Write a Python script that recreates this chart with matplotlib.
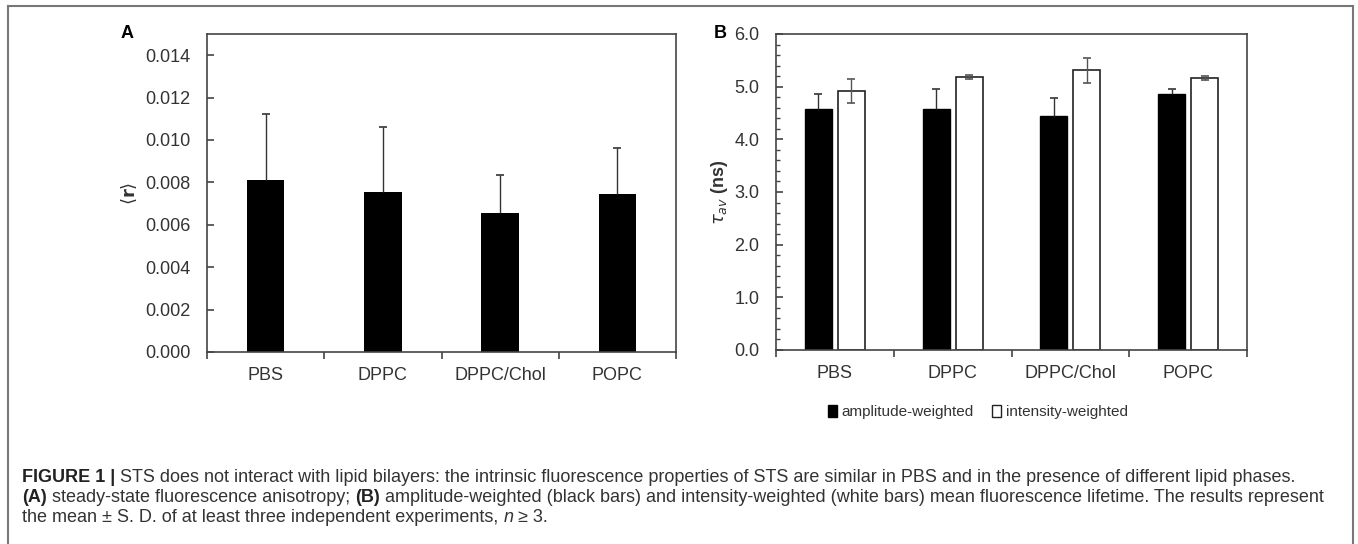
import numpy as np
import matplotlib
matplotlib.use("Agg")
import matplotlib.pyplot as plt
from matplotlib.lines import Line2D
from matplotlib.patches import Patch
from matplotlib.ticker import FixedLocator, MultipleLocator, FormatStrFormatter

plt.rcParams['font.family'] = ['Liberation Sans', 'DejaVu Sans']

# data
categories = ["PBS", "DPPC", "DPPC/Chol", "POPC"]
aniso = [0.0081, 0.00755, 0.00655, 0.00745]
aniso_sd = [0.00315, 0.00305, 0.0018, 0.00215]
tau_amp = [4.57, 4.57, 4.44, 4.86]
tau_amp_sd = [0.29, 0.38, 0.34, 0.09]
tau_int = [4.92, 5.18, 5.31, 5.17]
tau_int_sd = [0.23, 0.04, 0.24, 0.04]

W, H = 1358, 544
fig = plt.figure(figsize=(W / 100, H / 100), dpi=100)

TXT = '#333333'
SPINE = '#444444'


def style_axes(ax):
    for s in ax.spines.values():
        s.set_color(SPINE)
        s.set_linewidth(1.2)
    x = np.arange(len(categories))
    ax.set_xlim(-0.5, len(categories) - 0.5)
    ax.set_xticks(x)
    ax.set_xticklabels(categories)
    ax.xaxis.set_minor_locator(FixedLocator(np.arange(len(categories) + 1) - 0.5))
    ax.tick_params(axis='x', which='major', length=0, pad=11, labelsize=13, labelcolor=TXT)
    ax.tick_params(axis='x', which='minor', direction='out', length=5, width=1.2, color=SPINE)
    ax.tick_params(axis='y', which='major', direction='in', length=5, width=1.2, color=SPINE,
                   pad=12, labelsize=13, labelcolor=TXT)
    return x


def upper_err(ax, x, y, sd, col):
    # one-sided (upward) error bars, drop the cap sitting on the bar top
    _, caps, _ = ax.errorbar(x, y, yerr=[np.zeros(len(x)), sd], fmt='none',
                             ecolor=col, elinewidth=1, capsize=3, capthick=1.2)
    caps[0].set_visible(False)


# panel A
axA = fig.add_axes([207 / W, 1 - 352 / H, 469 / W, 318 / H])
x = style_axes(axA)
axA.bar(x, aniso, width=0.32, color='black')
upper_err(axA, x, aniso, aniso_sd, TXT)
axA.set_ylim(0, 0.015)
axA.yaxis.set_major_locator(FixedLocator(np.arange(0, 0.0141, 0.002)))
axA.yaxis.set_major_formatter(FormatStrFormatter('%.3f'))
axA.set_ylabel(r'$\langle \mathbf{r} \rangle$', fontsize=13, color=TXT)
axA.yaxis.set_label_coords(-0.145, 0.5)

# panel B
axB = fig.add_axes([776 / W, 1 - 350 / H, 471 / W, 316 / H])
x = style_axes(axB)
off = 0.14
bw = 0.23
axB.bar(x - off, tau_amp, width=bw, color='black', edgecolor='black', linewidth=1)
axB.bar(x + off, tau_int, width=bw, color='white', edgecolor='#222222', linewidth=1.2)
upper_err(axB, x - off, tau_amp, tau_amp_sd, TXT)
axB.errorbar(x + off, tau_int, yerr=tau_int_sd, fmt='none',
             ecolor='#555555', elinewidth=1, capsize=3, capthick=1.2)
axB.set_ylim(0, 6)
axB.yaxis.set_major_locator(MultipleLocator(1))
axB.yaxis.set_minor_locator(MultipleLocator(0.2))
axB.yaxis.set_major_formatter(FormatStrFormatter('%.1f'))
axB.tick_params(axis='y', which='minor', direction='in', length=3, width=1, color=SPINE)
axB.set_ylabel(r'$\tau_{av}$ (ns)', fontsize=13, fontweight='bold', color=TXT)
axB.yaxis.set_label_coords(-0.098, 0.5)

handles = [Patch(facecolor='black', edgecolor='black', label='amplitude-weighted'),
           Patch(facecolor='white', edgecolor='#222222', label='intensity-weighted')]
fig.legend(handles=handles, loc='center', bbox_to_anchor=(978 / W, 1 - 412 / H), ncol=2,
           frameon=False, handlelength=0.6, handleheight=0.9, handletextpad=0.3,
           columnspacing=1.2, fontsize=11, labelcolor=TXT)

# panel letters
fig.text(127 / W, 1 - 33 / H, 'A', fontsize=13, fontweight='bold', ha='center', va='center')
fig.text(720 / W, 1 - 33 / H, 'B', fontsize=13, fontweight='bold', ha='center', va='center')

# frame around the figure
for seg in [([8, 1353], [6, 6]), ([8, 8], [6, 544]), ([1353, 1353], [6, 544])]:
    fig.add_artist(Line2D([p / W for p in seg[0]], [1 - p / H for p in seg[1]],
                          color='#777777', linewidth=1.5))

# caption, drawn piece by piece so bold / italic parts sit inline
renderer = fig.canvas.get_renderer()
CAP = 13


def caption_line(y, parts):
    xpos = 22
    for txt, weight, style, col in parts:
        t = fig.text(xpos / W, 1 - y / H, txt, fontsize=CAP, fontweight=weight,
                     fontstyle=style, color=col, ha='left', va='center')
        bb = t.get_window_extent(renderer=renderer)
        xpos += bb.width


caption_line(477, [
    ("FIGURE 1 |", 'bold', 'normal', '#222222'),
    (" STS does not interact with lipid bilayers: the intrinsic fluorescence properties of STS "
     "are similar in PBS and in the presence of different lipid phases.", 'normal', 'normal', TXT)])
caption_line(498, [
    ("(A)", 'bold', 'normal', '#222222'),
    (" steady-state fluorescence anisotropy; ", 'normal', 'normal', TXT),
    ("(B)", 'bold', 'normal', '#222222'),
    (" amplitude-weighted (black bars) and intensity-weighted (white bars) mean fluorescence "
     "lifetime. The results represent", 'normal', 'normal', TXT)])
caption_line(518, [
    ("the mean \u00b1 S. D. of at least three independent experiments, ", 'normal', 'normal', TXT),
    ("n", 'normal', 'italic', TXT),
    (" \u2265 3.", 'normal', 'normal', TXT)])

fig.savefig("out.png", dpi=100)
